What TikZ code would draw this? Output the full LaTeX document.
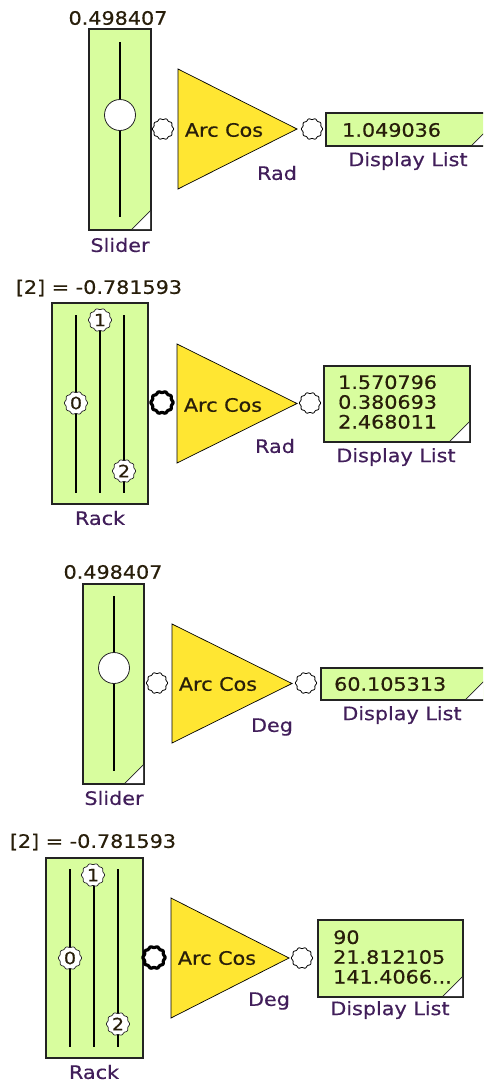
\documentclass[tikz,border=0pt]{standalone}
\usepackage{fontspec}
\setmainfont{DejaVu Sans}[FakeStretch=1.12, FakeBold=0.5]
\definecolor{boxgreen}{RGB}{216,253,158}
\definecolor{triyellow}{RGB}{255,230,50}
\definecolor{labelcol}{RGB}{65,30,90}
\definecolor{valcol}{RGB}{40,30,10}
\definecolor{edge}{RGB}{35,35,35}
\newcommand\cogshape[4]{%
  \draw[#4] plot[domain=0:357, samples=120, smooth cycle, variable=\t]
    ({#1+(#3+0.6*cos(10*\t))*cos(\t)},{#2+(#3+0.6*cos(10*\t))*sin(\t)});}
\tikzset{
  panel/.style={draw=edge, line width=1.8pt, fill=boxgreen, inner sep=0pt},
  tri/.style={draw=black, line width=0.7pt, fill=triyellow},
  lbl/.style={text=labelcol, font=\fontsize{18.5}{20}\selectfont, inner sep=0pt},
  val/.style={text=valcol, font=\fontsize{18.5}{20}\selectfont, inner sep=0pt},
  listtxt/.style={text=valcol, font=\fontsize{18.5}{19.8}\selectfont, inner sep=0pt, align=left, anchor=west},
  track/.style={draw=black, line width=1.8pt},
  knob/.style={draw=edge, line width=0.8pt, fill=white},
  port/.style={draw=black, line width=0.8pt, fill=white},
  bport/.style={draw=black, line width=3.2pt, fill=white},
  cogk/.style={draw=edge, line width=0.7pt, fill=white},
  digit/.style={text=valcol, font=\fontsize{17}{17}\selectfont, inner sep=0pt},
  cornerline/.style={draw=edge, line width=0.8pt}
}
\begin{document}
\begin{tikzpicture}[x=1pt, y=-1pt]
\useasboundingbox (0,0) rectangle (483,1082);
\clip (0,0) rectangle (483,1082);

% ---------- Panel 1 ----------
\node[val] (v1) at (118,18) {0.498407};
\node[panel, minimum width=62, minimum height=201] (s1) at (120,129.5) {};
\draw[track] (120,42) -- (120,217);
\draw[knob] (120,115) circle (15.5);
\fill[white] (132,229.1) -- (150.1,211) -- (150.1,229.1) -- cycle;
\draw[cornerline] (132,229.1) -- (150.1,211);
\node[lbl] (sl1) at (120,245) {Slider};
\cogshape{163}{129}{10}{port}
\draw[tri] (178,69) -- (297,129) -- (178,189) -- cycle;
\node[val] (a1) at (224,130) {Arc Cos};
\node[lbl] (r1) at (277,173) {Rad};
\cogshape{312}{129}{10}{port}
\node[panel, minimum width=165, minimum height=33] (d1) at (408.5,129.5) {};
\fill[white] (472,145.1) -- (490.1,127) -- (490.1,145.1) -- cycle;
\draw[cornerline] (472,145.1) -- (490.1,127);
\node[val, anchor=west] (dv1) at (342,130) {1.049036};
\node[lbl] (dl1) at (408,161) {Display List};

% ---------- Panel 2 ----------
\node[val] (v2) at (99,288) {[2] = -0.781593};
\node[panel, minimum width=96, minimum height=201] (k2) at (100,403.5) {};
\draw[track] (76,315) -- (76,493);
\draw[track] (100,320) -- (100,493);
\draw[track] (124,315) -- (124,493);
\cogshape{76}{403}{11}{cogk}
\node[digit] (k2a) at (76,403) {0};
\cogshape{100}{320}{11}{cogk}
\node[digit] (k2b) at (100,320) {1};
\cogshape{124}{471}{11}{cogk}
\node[digit] (k2c) at (124,471) {2};
\node[lbl] (rk2) at (100,518) {Rack};
\cogshape{162}{402.5}{10.5}{bport}
\draw[tri] (177,344) -- (297,403.5) -- (177,463) -- cycle;
\node[val] (a2) at (223,405) {Arc Cos};
\node[lbl] (r2) at (275,446) {Rad};
\cogshape{310}{403}{10}{port}
\node[panel, minimum width=146, minimum height=76] (d2) at (397,404) {};
\fill[white] (450,441.1) -- (469.1,422) -- (469.1,441.1) -- cycle;
\draw[cornerline] (450,441.1) -- (469.1,422);
\node[listtxt] (dv2) at (338,402) {1.570796\\0.380693\\2.468011};
\node[lbl] (dl2) at (396,457) {Display List};

% ---------- Panel 3 ----------
\node[val] (v3) at (113,572) {0.498407};
\node[panel, minimum width=61, minimum height=200] (s3) at (113.5,684) {};
\draw[track] (114,596) -- (114,771);
\draw[knob] (114,668) circle (15.5);
\fill[white] (125,783.1) -- (143.1,765) -- (143.1,783.1) -- cycle;
\draw[cornerline] (125,783.1) -- (143.1,765);
\node[lbl] (sl3) at (114,798) {Slider};
\cogshape{157}{683}{10}{port}
\draw[tri] (172,624) -- (292,683.5) -- (172,743) -- cycle;
\node[val] (a3) at (218,684) {Arc Cos};
\node[lbl] (r3) at (272,727) {Deg};
\cogshape{306}{683}{10}{port}
\node[panel, minimum width=165, minimum height=32] (d3) at (403.5,684) {};
\fill[white] (466,699.1) -- (485.1,680) -- (485.1,699.1) -- cycle;
\draw[cornerline] (466,699.1) -- (485.1,680);
\node[val, anchor=west] (dv3) at (334,684) {60.105313};
\node[lbl] (dl3) at (402,715) {Display List};

% ---------- Panel 4 ----------
\node[val] (v4) at (93,842) {[2] = -0.781593};
\node[panel, minimum width=97, minimum height=200] (k4) at (94.5,958) {};
\draw[track] (70,869) -- (70,1047);
\draw[track] (94,875) -- (94,1047);
\draw[track] (118,869) -- (118,1047);
\cogshape{70}{958}{11}{cogk}
\node[digit] (k4a) at (70,958) {0};
\cogshape{93}{875}{11}{cogk}
\node[digit] (k4b) at (93,875) {1};
\cogshape{118}{1024}{11}{cogk}
\node[digit] (k4c) at (118,1024) {2};
\node[lbl] (rk4) at (94,1072) {Rack};
\cogshape{154}{957.5}{10.5}{bport}
\draw[tri] (171,898) -- (289,958) -- (171,1018) -- cycle;
\node[val] (a4) at (217,958) {Arc Cos};
\node[lbl] (r4) at (269,1001) {Deg};
\cogshape{302}{958}{10}{port}
\node[panel, minimum width=145, minimum height=77] (d4) at (390.5,958.5) {};
\fill[white] (443,996.1) -- (462.1,977) -- (462.1,996.1) -- cycle;
\draw[cornerline] (443,996.1) -- (462.1,977);
\node[listtxt] (dv4) at (333,957) {90\\21.812105\\141.4066...};
\node[lbl] (dl4) at (390,1010) {Display List};
\end{tikzpicture}
\end{document}
